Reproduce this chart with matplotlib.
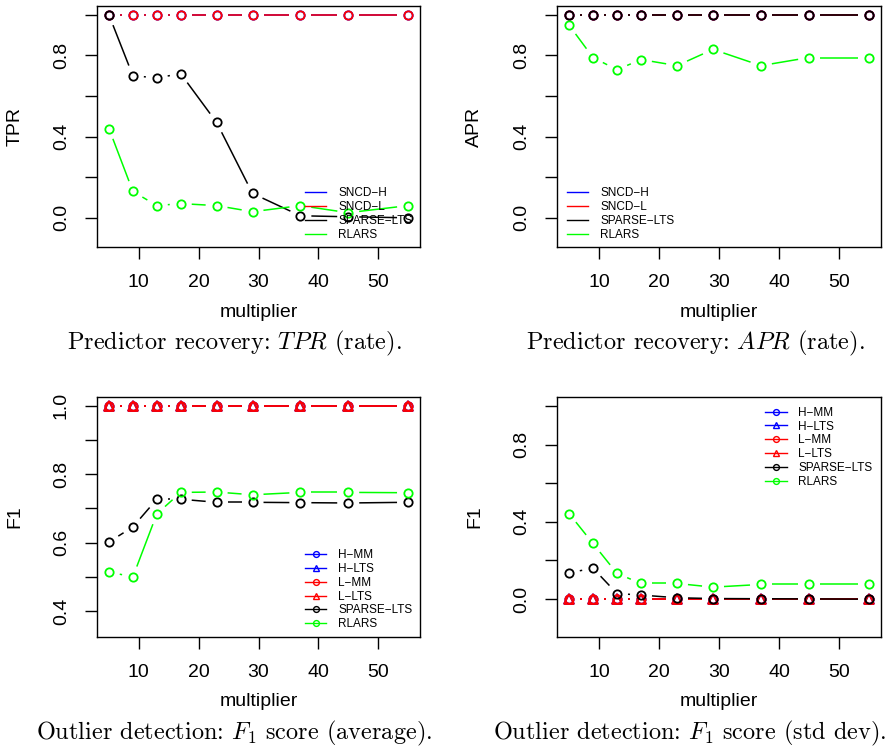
import numpy as np
import matplotlib
matplotlib.use("Agg")
import matplotlib.pyplot as plt
from matplotlib.lines import Line2D

plt.rcParams['font.family'] = ['Liberation Sans', 'DejaVu Sans']
plt.rcParams['mathtext.fontset'] = 'cm'

# multiplier values (x)
mult = np.array([5, 9, 13, 17, 23, 29, 37, 45, 55])

# predictor recovery: TPR
tpr_sncd_h = [1.0, 1.0, 1.0, 1.0, 1.0, 1.0, 1.0, 1.0, 1.0]
tpr_sncd_l = [1.0, 1.0, 1.0, 1.0, 1.0, 1.0, 1.0, 1.0, 1.0]
tpr_sparse = [1.0, 0.70, 0.69, 0.71, 0.47, 0.12, 0.01, 0.005, 0.0]
tpr_rlars = [0.44, 0.13, 0.06, 0.07, 0.06, 0.03, 0.06, 0.025, 0.06]

# predictor recovery: APR
apr_sncd_h = [1.0, 1.0, 1.0, 1.0, 1.0, 1.0, 1.0, 1.0, 1.0]
apr_sncd_l = [1.0, 1.0, 1.0, 1.0, 1.0, 1.0, 1.0, 1.0, 1.0]
apr_sparse = [1.0, 1.0, 1.0, 1.0, 1.0, 1.0, 1.0, 1.0, 1.0]
apr_rlars = [0.95, 0.79, 0.73, 0.78, 0.75, 0.83, 0.75, 0.79, 0.79]

# outlier detection: F1 average
f1m_hmm = [1.0] * 9
f1m_hlts = [1.0] * 9
f1m_lmm = [1.0] * 9
f1m_llts = [1.0] * 9
f1m_sparse = [0.602, 0.646, 0.727, 0.727, 0.718, 0.718, 0.717, 0.716, 0.718]
f1m_rlars = [0.514, 0.500, 0.684, 0.747, 0.748, 0.740, 0.747, 0.747, 0.746]

# outlier detection: F1 std dev
f1s_hmm = [0.0] * 9
f1s_hlts = [0.0] * 9
f1s_lmm = [0.0] * 9
f1s_llts = [0.0] * 9
f1s_sparse = [0.136, 0.160, 0.029, 0.021, 0.007, 0.003, 0.002, 0.001, 0.0]
f1s_rlars = [0.443, 0.288, 0.133, 0.081, 0.081, 0.062, 0.076, 0.076, 0.076]

BLUE, RED, BLACK, GREEN = '#0000FF', '#FF0000', '#000000', '#00FF00'
MINUS = '\u2212'

W, H = 892, 747
fig = plt.figure(figsize=(W / 100, H / 100), dpi=100)


def px_axes(x0, y0, x1, y1):
    # box given in pixel coords (top-left origin)
    return fig.add_axes([x0 / W, 1 - y1 / H, (x1 - x0) / W, (y1 - y0) / H])


def r_expand(lo, hi):
    d = (hi - lo) * 0.04
    return lo - d, hi + d


def type_b(ax, x, y, color, marker='o', ms=6.0, gap=11):
    # lines with gaps around the points, like R's type="b"
    pts = ax.transData.transform(np.column_stack([x, y]))
    inv = ax.transData.inverted()
    for p, q in zip(pts[:-1], pts[1:]):
        d = q - p
        L = np.hypot(*d)
        if L > 2 * gap:
            a = inv.transform(p + d / L * gap)
            b = inv.transform(q - d / L * gap)
            ax.plot([a[0], b[0]], [a[1], b[1]], color=color, lw=1.1,
                    solid_capstyle='butt')
    ax.plot(x, y, ls='none', marker=marker, ms=ms, mfc='none', mec=color, mew=1.3)


def style(ax, ylim, yticks, ylabels, ylab):
    ax.set_xlim(r_expand(5, 55))
    ax.set_ylim(r_expand(*ylim))
    ax.set_xticks([10, 20, 30, 40, 50])
    ax.set_yticks(yticks)
    ax.set_yticklabels(ylabels, rotation=90, va='center')
    ax.tick_params(direction='out', length=8.6, width=1.0, labelsize=14, pad=11)
    for s in ax.spines.values():
        s.set_linewidth(1.0)
    ax.text(0.5, -0.27, 'multiplier', transform=ax.transAxes, ha='center',
            va='center', fontsize=14)
    ax.text(-0.255, 0.5, ylab, transform=ax.transAxes, ha='center', va='center',
            rotation=90, fontsize=14)


def caption(ax, txt, y, dx=-24):
    bb = ax.get_position()
    fig.text(bb.x0 + bb.width / 2 + dx / W, 1 - y / H, txt, ha='center', va='center',
             fontsize=17.5, family='cmr10')


def legend(ax, entries, anchor, with_markers):
    handles = []
    for lab, col, mk in entries:
        if with_markers:
            h = Line2D([], [], color=col, lw=1.0, marker=mk, ms=4.2 if mk == 'o' else 5,
                       mfc='none', mec=col, mew=1.0)
        else:
            h = Line2D([], [], color=col, lw=1.0)
        handles.append(h)
    ax.legend(handles, [e[0] for e in entries], loc='upper left', bbox_to_anchor=anchor,
              frameon=False, fontsize=8.5, handlelength=1.8, handletextpad=1.0,
              labelspacing=0.15, borderpad=0, borderaxespad=0)


pr_entries = [('SNCD' + MINUS + 'H', BLUE, 'o'), ('SNCD' + MINUS + 'L', RED, 'o'),
              ('SPARSE' + MINUS + 'LTS', BLACK, 'o'), ('RLARS', GREEN, 'o')]
od_entries = [('H' + MINUS + 'MM', BLUE, 'o'), ('H' + MINUS + 'LTS', BLUE, '^'),
              ('L' + MINUS + 'MM', RED, 'o'), ('L' + MINUS + 'LTS', RED, '^'),
              ('SPARSE' + MINUS + 'LTS', BLACK, 'o'), ('RLARS', GREEN, 'o')]

t02 = [0.0, 0.2, 0.4, 0.6, 0.8, 1.0]
l02 = ['0.0', '', '0.4', '', '0.8', '']

# top-left: TPR
ax1 = px_axes(97, 6, 420, 247)
style(ax1, (-0.1, 1.0), t02, l02, 'TPR')
type_b(ax1, mult, tpr_sncd_h, BLUE)
type_b(ax1, mult, tpr_sncd_l, RED)
type_b(ax1, mult, tpr_sparse, BLACK)
type_b(ax1, mult, tpr_rlars, GREEN)
legend(ax1, pr_entries, (0.644, 0.247), False)
caption(ax1, r'Predictor recovery: $TPR$ (rate).', 343)

# top-right: APR
ax2 = px_axes(557, 6, 881, 247)
style(ax2, (-0.1, 1.0), t02, l02, 'APR')
type_b(ax2, mult, apr_sncd_h, BLUE)
type_b(ax2, mult, apr_sncd_l, RED)
type_b(ax2, mult, apr_sparse, BLACK)
type_b(ax2, mult, apr_rlars, GREEN)
legend(ax2, pr_entries, (0.031, 0.247), False)
caption(ax2, r'Predictor recovery: $APR$ (rate).', 343)

# bottom-left: F1 average
ax3 = px_axes(97, 397, 420, 637)
style(ax3, (0.35, 1.0), [0.4, 0.5, 0.6, 0.7, 0.8, 0.9, 1.0],
      ['0.4', '', '0.6', '', '0.8', '', '1.0'], 'F1')
type_b(ax3, mult, f1m_hmm, BLUE, 'o')
type_b(ax3, mult, f1m_hlts, BLUE, '^', ms=7)
type_b(ax3, mult, f1m_lmm, RED, 'o')
type_b(ax3, mult, f1m_llts, RED, '^', ms=7)
type_b(ax3, mult, f1m_sparse, BLACK)
type_b(ax3, mult, f1m_rlars, GREEN)
legend(ax3, od_entries, (0.644, 0.365), True)
caption(ax3, r'Outlier detection: $F_1$ score (average).', 733)

# bottom-right: F1 std dev
ax4 = px_axes(557, 397, 881, 637)
style(ax4, (-0.15, 1.0), t02, l02, 'F1')
type_b(ax4, mult, f1s_hmm, BLUE, 'o')
type_b(ax4, mult, f1s_hlts, BLUE, '^', ms=7)
type_b(ax4, mult, f1s_lmm, RED, 'o')
type_b(ax4, mult, f1s_llts, RED, '^', ms=7)
type_b(ax4, mult, f1s_sparse, BLACK)
type_b(ax4, mult, f1s_rlars, GREEN)
legend(ax4, od_entries, (0.643, 0.959), True)
caption(ax4, r'Outlier detection: $F_1$ score (std dev).', 733, dx=-29)

fig.savefig('out.png', dpi=100)
